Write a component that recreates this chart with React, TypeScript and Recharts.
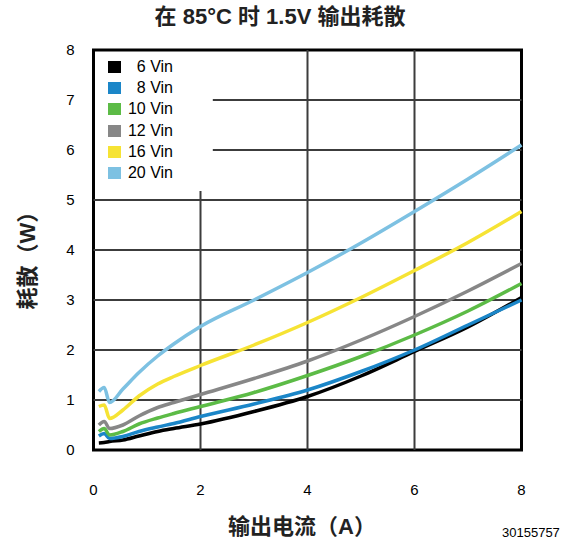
import React from 'react';
import { LineChart, Line, XAxis, YAxis, ReferenceLine, ReferenceArea, Legend } from 'recharts';

const currents = [0.1, 0.2, 0.3, 0.55, 0.85, 1.2, 1.5, 2, 3, 4, 5, 6, 7, 8];
const vin6 = [0.14, 0.15, 0.17, 0.2, 0.28, 0.37, 0.43, 0.52, 0.77, 1.07, 1.48, 1.97, 2.46, 3.05];
const vin8 = [0.28, 0.33, 0.23, 0.27, 0.37, 0.46, 0.53, 0.67, 0.92, 1.2, 1.57, 2.0, 2.5, 3.0];
const vin10 = [0.37, 0.43, 0.3, 0.37, 0.52, 0.64, 0.73, 0.87, 1.15, 1.49, 1.87, 2.3, 2.78, 3.33];
const vin12 = [0.5, 0.57, 0.43, 0.5, 0.68, 0.85, 0.95, 1.11, 1.43, 1.78, 2.2, 2.67, 3.18, 3.73];
const vin16 = [0.87, 0.9, 0.63, 0.8, 1.08, 1.32, 1.47, 1.69, 2.1, 2.55, 3.05, 3.59, 4.15, 4.77];
const vin20 = [1.17, 1.25, 0.95, 1.22, 1.55, 1.88, 2.12, 2.47, 3.0, 3.55, 4.14, 4.77, 5.42, 6.1];

const xTicks = [0, 2, 4, 6, 8];
const yTicks = [0, 1, 2, 3, 4, 5, 6, 7, 8];

const seriesDefs = [
  { key: 'v6', name: '6 Vin', values: vin6, color: '#000000' },
  { key: 'v8', name: '8 Vin', values: vin8, color: '#1b86c8' },
  { key: 'v10', name: '10 Vin', values: vin10, color: '#5cbb46' },
  { key: 'v12', name: '12 Vin', values: vin12, color: '#878787' },
  { key: 'v16', name: '16 Vin', values: vin16, color: '#f6e334' },
  { key: 'v20', name: '20 Vin', values: vin20, color: '#7dc1e2' },
];

const data = currents.map((c, i) => {
  const row: Record<string, number> = { current: c };
  seriesDefs.forEach((s) => {
    row[s.key] = s.values[i];
  });
  return row;
});

// legend box occupies upper-left of plot, hiding grid there
const legendBoxRight = 2.23;
const legendBoxBottom = 5.18;

const FONT = '"Liberation Sans", Arial, "Noto Sans CJK SC", sans-serif';

const LegendContent = () => (
  <div style={{ fontFamily: FONT, fontSize: 16, color: '#000' }}>
    {seriesDefs.map((s) => (
      <div key={s.key} style={{ display: 'flex', alignItems: 'center', height: 21.3 }}>
        <div style={{ width: 13, height: 12, background: s.color }} />
        <div style={{ width: 52, textAlign: 'right' }}>{s.name}</div>
      </div>
    ))}
  </div>
);

export default function App() {
  return (
    <div style={{ position: 'absolute', left: 0, top: 0, width: 573, height: 549, background: '#fff', fontFamily: FONT }}>
      <div style={{ position: 'absolute', left: 80, top: 5, width: 400, textAlign: 'center', fontSize: 22, fontWeight: 'bold', lineHeight: '24px', color: '#222' }}>
        在 85°C 时 1.5V 输出耗散
      </div>
      <LineChart width={573} height={549} data={data} margin={{ top: 50, right: 51.5, bottom: 0, left: 0 }}>
        <XAxis
          dataKey="current"
          type="number"
          domain={[0, 8]}
          ticks={xTicks}
          axisLine={false}
          tickLine={false}
          tickSize={0}
          tickMargin={34}
          height={99}
          tick={{ fill: '#000', fontSize: 15, fontFamily: FONT }}
        />
        <YAxis
          type="number"
          domain={[0, 8]}
          ticks={yTicks}
          axisLine={false}
          tickLine={false}
          tickSize={0}
          tickMargin={19}
          width={93.5}
          tick={{ fill: '#000', fontSize: 15, fontFamily: FONT }}
        />
        {[1, 2, 3, 4, 5].map((y) => (
          <ReferenceLine key={'h' + y} y={y} stroke="#3c3c3c" strokeWidth={2} />
        ))}
        {[6, 7].map((y) => (
          <ReferenceLine key={'h' + y} segment={[{ x: legendBoxRight, y }, { x: 8, y }]} stroke="#3c3c3c" strokeWidth={2} />
        ))}
        <ReferenceLine segment={[{ x: 2, y: 0 }, { x: 2, y: legendBoxBottom }]} stroke="#3c3c3c" strokeWidth={2} />
        {[4, 6].map((x) => (
          <ReferenceLine key={'v' + x} x={x} stroke="#3c3c3c" strokeWidth={2} />
        ))}
        {seriesDefs.map((s) => (
          <Line
            key={s.key}
            dataKey={s.key}
            name={s.name}
            type="monotone"
            stroke={s.color}
            strokeWidth={3.5}
            dot={false}
            isAnimationActive={false}
          />
        ))}
        <ReferenceArea x1={0} x2={8} y1={0} y2={8} fill="none" fillOpacity={0} stroke="#000" strokeWidth={3} />
        <Legend
          layout="vertical"
          align="center"
          verticalAlign="middle"
          content={<LegendContent />}
          wrapperStyle={{ left: 108, top: 56, width: 70, height: 130 }}
        />
      </LineChart>
      <div style={{ position: 'absolute', left: 152, top: 515, width: 300, textAlign: 'center', fontSize: 22, fontWeight: 'bold', lineHeight: '24px', color: '#222' }}>
        输出电流（A）
      </div>
      <div style={{ position: 'absolute', left: -72, top: 243, width: 200, height: 24, textAlign: 'center', fontSize: 22, fontWeight: 'bold', lineHeight: '24px', color: '#222', transform: 'rotate(-90deg)' }}>
        耗散（W）
      </div>
      <div style={{ position: 'absolute', left: 502, top: 526, fontSize: 13, lineHeight: '14px', color: '#000' }}>
        30155757
      </div>
    </div>
  );
}
